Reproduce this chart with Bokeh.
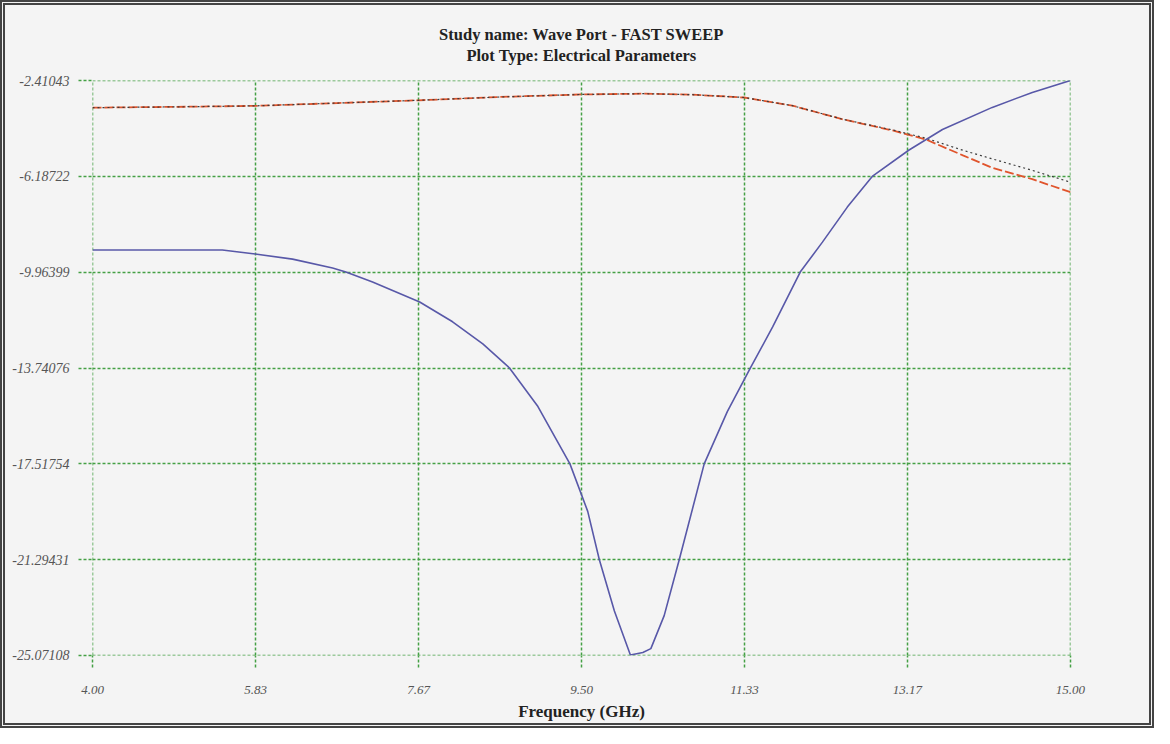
from bokeh.plotting import figure
from bokeh.models import FixedTicker, Range1d, Title
from bokeh.layouts import column
from bokeh.embed import file_html
from bokeh.resources import INLINE

# ---- data ----
s11_freq = [4.00, 5.46, 5.83, 6.25, 6.70, 6.85, 7.15, 7.68, 8.05, 8.39, 8.69, 9.01, 9.23, 9.37,
            9.57, 9.70, 9.87, 10.05, 10.19, 10.28, 10.43, 10.60, 10.88, 11.14, 11.40, 11.65,
            11.96, 12.21, 12.49, 12.77, 13.18, 13.56, 14.12, 14.57, 15.00]
s11_db = [-9.09, -9.09, -9.25, -9.45, -9.80, -9.96, -10.35, -11.14, -11.92, -12.79, -13.74, -15.26,
          -16.64, -17.52, -19.39, -21.29, -23.32, -25.05, -24.95, -24.80, -23.50, -21.29, -17.52,
          -15.46, -13.74, -12.12, -9.96, -8.78, -7.40, -6.19, -5.16, -4.34, -3.47, -2.88, -2.41]

s21_freq = [4.00, 4.92, 5.83, 6.75, 7.67, 8.58, 9.50, 10.20, 10.75, 11.33, 11.87, 12.44,
            13.00, 13.37, 13.79, 14.12, 14.57, 15.00]
s21_db = [-3.48, -3.45, -3.41, -3.30, -3.19, -3.06, -2.96, -2.93, -2.97, -3.08, -3.40, -3.94,
          -4.38, -4.73, -5.36, -5.85, -6.30, -6.81]

s21b_freq = [4.00, 4.92, 5.83, 6.75, 7.67, 8.58, 9.50, 10.20, 10.75, 11.33, 11.87, 12.44,
             13.00, 13.37, 13.79, 14.12, 14.57, 15.00]
s21b_db = [-3.48, -3.45, -3.41, -3.30, -3.19, -3.06, -2.96, -2.93, -2.97, -3.08, -3.40, -3.94,
           -4.36, -4.68, -5.16, -5.50, -5.95, -6.42]

x_ticks = [4.0, 5.8333, 7.6667, 9.5, 11.3333, 13.1667, 15.0]
x_tick_labels = ["4.00", "5.83", "7.67", "9.50", "11.33", "13.17", "15.00"]
y_ticks = [-2.41043, -6.18722, -9.96399, -13.74076, -17.51754, -21.29431, -25.07108]
y_tick_labels = ["-2.41043", "-6.18722", "-9.96399", "-13.74076", "-17.51754", "-21.29431", "-25.07108"]

title1 = "Study name: Wave Port - FAST SWEEP"
title2 = "Plot Type: Electrical Parameters"
x_label = "Frequency (GHz)"

BG = "#f4f4f4"
GRID = "#44a044"

p = figure(width=1144, height=718, output_backend="svg", toolbar_location=None,
           x_range=Range1d(3.9999, 15.0001), y_range=Range1d(-25.0712, -2.4103),
           background_fill_color=BG, border_fill_color=BG,
           min_border_left=87, min_border_right=79, min_border_top=75, min_border_bottom=66)
p.outline_line_color = None

# spacer between plot frame and the two title lines
spacer = Title(text=" ", text_font_size="1px", standoff=13, text_color=BG)
t2 = Title(text=title2, align="center", text_font="Liberation Serif", text_font_size="16.5px",
           text_font_style="bold", text_color="#222222", standoff=0)
t1 = Title(text=title1, align="center", text_font="Liberation Serif", text_font_size="16.5px",
           text_font_style="bold", text_color="#222222", standoff=0)
p.add_layout(spacer, "above")
p.add_layout(t2, "above")
p.add_layout(t1, "above")

for ax in (p.xaxis[0], p.yaxis[0]):
    ax.axis_line_color = None
    ax.minor_tick_line_color = None
    ax.major_tick_in = 0
    ax.major_tick_out = 14
    ax.major_tick_line_color = GRID
    ax.major_tick_line_dash = "3 2"
    ax.major_tick_line_width = 1.5
    ax.major_label_text_font = "Liberation Serif"
    ax.major_label_text_font_style = "italic"
    ax.major_label_text_color = "#555555"

p.xaxis.major_tick_out = 12
p.xaxis.major_label_text_font_size = "13px"
p.yaxis.major_label_text_font_size = "14px"
p.xaxis.ticker = FixedTicker(ticks=x_ticks)
p.xaxis.major_label_overrides = dict(zip(x_ticks, x_tick_labels))
p.yaxis.ticker = FixedTicker(ticks=y_ticks)
p.yaxis.major_label_overrides = dict(zip(y_ticks, y_tick_labels))
p.xaxis.major_label_standoff = 18
p.yaxis.major_label_standoff = 9

p.xaxis.axis_label = x_label
p.xaxis.axis_label_text_font = "Liberation Serif"
p.xaxis.axis_label_text_font_style = "bold"
p.xaxis.axis_label_text_font_size = "17px"
p.xaxis.axis_label_text_color = "#222222"
p.xaxis.axis_label_standoff = 5

for g in (p.xgrid[0], p.ygrid[0]):
    g.grid_line_color = GRID
    g.grid_line_dash = "3 2"
    g.grid_line_width = 1.5
    g.grid_line_alpha = 1.0

p.line(s21_freq, s21_db, line_color="#e0542c", line_width=1.8, line_dash="9 3")
p.line(s21b_freq, s21b_db, line_color="#3c3c3c", line_width=1.2, line_dash="2 3")
p.line(s11_freq, s11_db, line_color="#5858a8", line_width=1.6)

layout = column(p, styles={"border": "5px double #444444", "background-color": BG})

open("out.html", "w").write(file_html(layout, INLINE))
